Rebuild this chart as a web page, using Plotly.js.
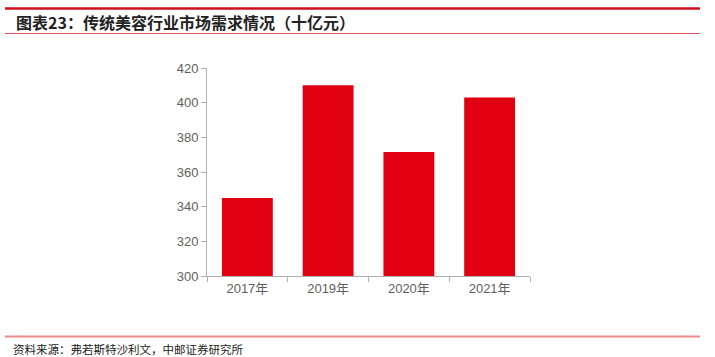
<!DOCTYPE html>
<html>
<head>
<meta charset="utf-8">
<script src="https://cdn.plot.ly/plotly-3.0.1.min.js"></script>
<style>html,body{margin:0;padding:0;background:#fff;} #chart{width:715px;height:357px;}</style>
</head>
<body>
<div id="chart"></div>
<script>
const categories = ["2017年", "2019年", "2020年", "2021年"];
const demand = [345, 410, 371.5, 403];
const titleText = "图表23：传统美容行业市场需求情况（十亿元）";
const sourceText = "资料来源：弗若斯特沙利文，中邮证券研究所";

const W = 715, H = 357;
const M = {l: 207, r: 185, t: 68, b: 81};
const pw = W - M.l - M.r, ph = H - M.t - M.b;
const px = x => (x - M.l) / pw;
const py = y => (H - M.b - y) / ph;

const trace = {
  type: 'bar',
  x: categories,
  y: demand,
  marker: {color: '#E10012'},
  hoverinfo: 'none'
};

const layout = {
  width: W, height: H,
  margin: M,
  paper_bgcolor: '#fff', plot_bgcolor: '#fff',
  showlegend: false,
  bargap: 0.37,
  font: {family: 'Liberation Sans, Arial, sans-serif', size: 13, color: '#5f5f5f'},
  xaxis: {
    type: 'category',
    showline: true, linecolor: '#b0b0b0', linewidth: 1,
    ticks: 'outside', tickson: 'boundaries', ticklen: 5, tickcolor: '#b0b0b0',
    showgrid: false, zeroline: false,
    tickfont: {size: 13, color: '#5f5f5f', family: 'Liberation Sans, Noto Sans CJK SC, sans-serif'}
  },
  yaxis: {
    range: [300, 420], dtick: 20,
    showline: true, linecolor: '#b0b0b0', linewidth: 1,
    ticks: 'outside', ticklen: 5, tickcolor: '#b0b0b0',
    showgrid: false, zeroline: false,
    tickfont: {size: 13, color: '#5f5f5f'}
  },
  shapes: [
    {type: 'line', xref: 'paper', yref: 'paper', x0: px(5), x1: px(700), y0: py(8.5), y1: py(8.5), line: {color: '#D0101B', width: 2.5}},
    {type: 'line', xref: 'paper', yref: 'paper', x0: px(5), x1: px(700), y0: py(33.5), y1: py(33.5), line: {color: '#D8565C', width: 1.2}},
    {type: 'line', xref: 'paper', yref: 'paper', x0: px(5), x1: px(700), y0: py(336.5), y1: py(336.5), line: {color: '#EE8A8A', width: 2}}
  ],
  annotations: [
    {xref: 'paper', yref: 'paper', x: px(14), y: py(21.5), xanchor: 'left', yanchor: 'middle', showarrow: false,
     text: '<b>' + titleText + '</b>', font: {family: 'Noto Sans CJK SC, sans-serif', size: 16, color: '#222'}},
    {xref: 'paper', yref: 'paper', x: px(11), y: py(348.5), xanchor: 'left', yanchor: 'middle', showarrow: false,
     text: sourceText, font: {family: 'Noto Sans CJK SC, sans-serif', size: 11.5, color: '#222'}}
  ]
};

Plotly.newPlot('chart', [trace], layout, {staticPlot: true, displayModeBar: false});
</script>
</body>
</html>
